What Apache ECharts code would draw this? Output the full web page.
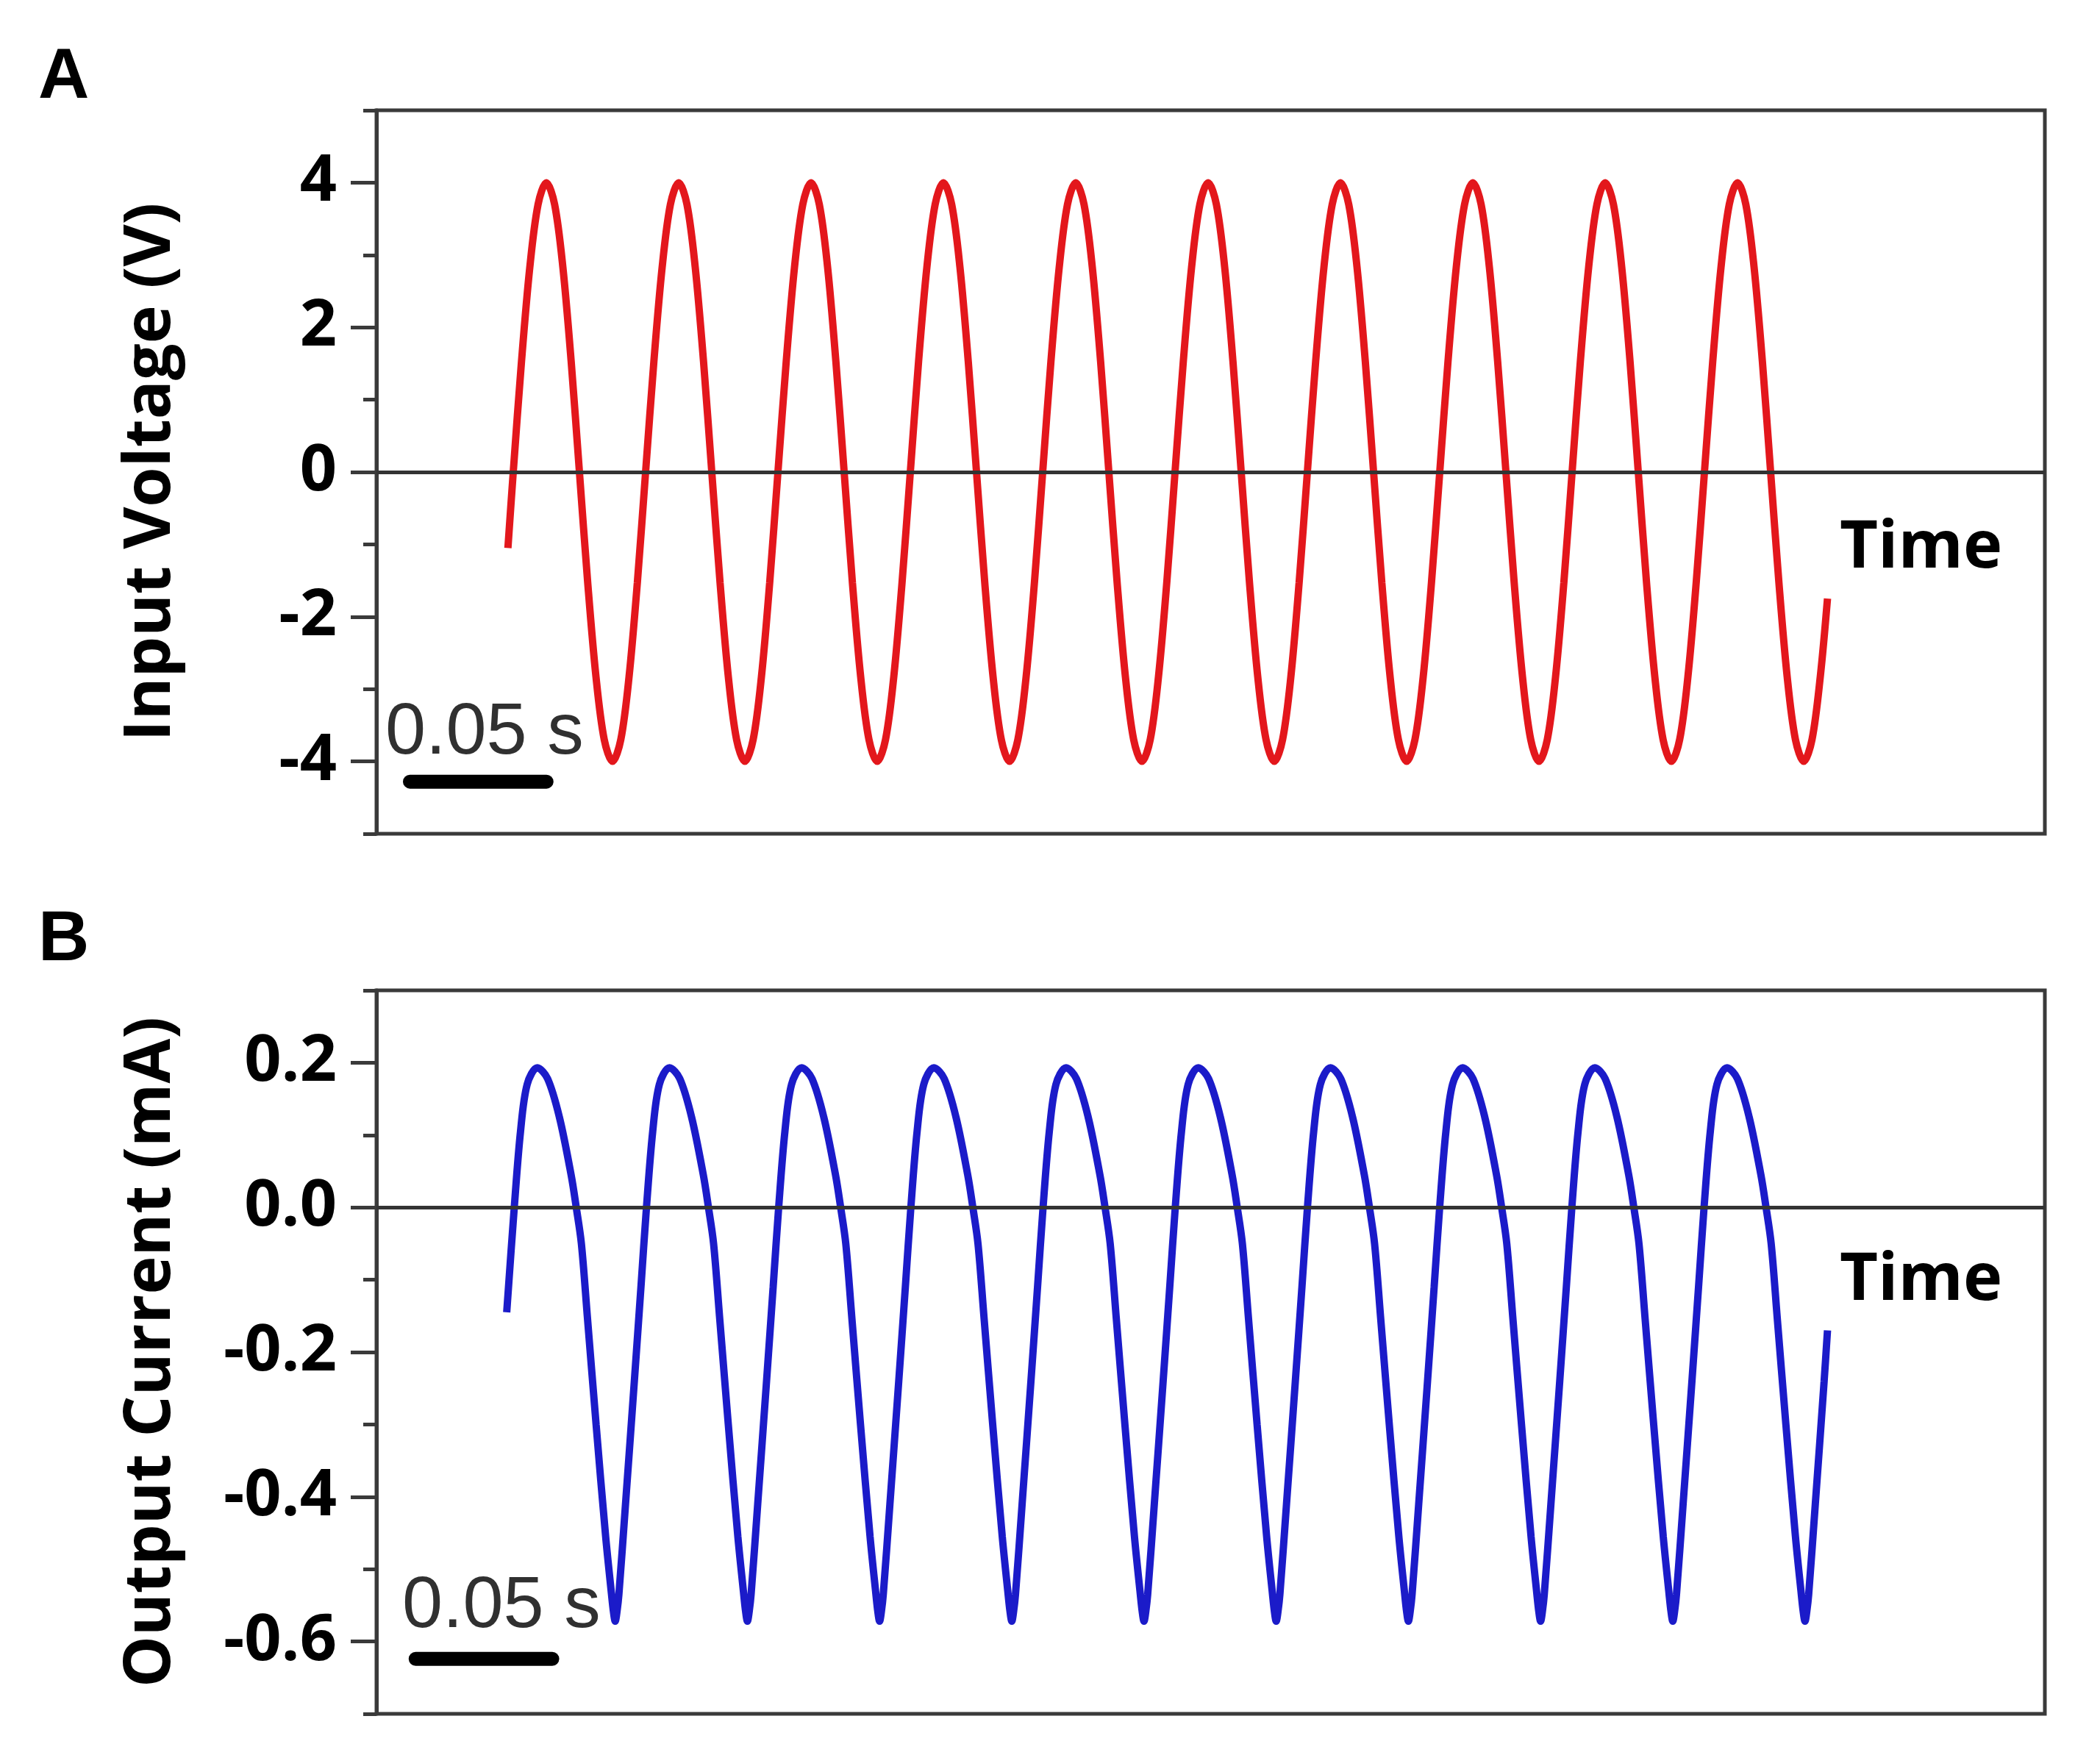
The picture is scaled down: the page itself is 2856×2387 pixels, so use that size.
<!DOCTYPE html>
<html>
<head>
<meta charset="utf-8">
<script src="https://cdn.jsdelivr.net/npm/echarts@6/dist/echarts.min.js"></script>
<style>
html,body{margin:0;padding:0;background:#ffffff;}
#chart{width:2856px;height:2387px;}
</style>
</head>
<body>
<div id="chart"></div>
<script>
// ---------- data (time in ms) ----------
const voltageTicks = [-4, -2, 0, 2, 4];
const voltageMinorTicks = [-5, -3, -1, 1, 3, 5];
const currentTicks = [-0.6, -0.4, -0.2, 0, 0.2];
const currentMinorTicks = [-0.7, -0.5, -0.3, -0.1, 0.1, 0.3];

const timeA = [
  43.60,
  45.37, 48.11, 50.86, 53.60, 56.35, 59.09, 61.83, 64.58, 67.32, 70.07, 72.81, 75.55, 78.30, 81.04, 83.78, 86.53,
  89.27, 92.02, 94.76, 97.50, 100.25, 102.99, 105.73, 108.48, 111.22, 113.97, 116.71, 119.45, 122.20, 124.94, 127.69, 130.43,
  133.17, 135.92, 138.66, 141.41, 144.15, 146.89, 149.64, 152.38, 155.13, 157.87, 160.61, 163.36, 166.10, 168.85, 171.59, 174.33,
  177.08, 179.82, 182.57, 185.31, 188.05, 190.80, 193.54, 196.29, 199.03, 201.77, 204.52, 207.26, 210.00, 212.75, 215.49, 218.24,
  220.98, 223.72, 226.47, 229.21, 231.96, 234.70, 237.44, 240.19, 242.93, 245.68, 248.42, 251.16, 253.91, 256.65, 259.39, 262.14,
  264.88, 267.63, 270.37, 273.11, 275.86, 278.60, 281.35, 284.09, 286.83, 289.58, 292.32, 295.07, 297.81, 300.55, 303.30, 306.04,
  308.78, 311.53, 314.27, 317.02, 319.76, 322.50, 325.25, 327.99, 330.74, 333.48, 336.22, 338.97, 341.71, 344.46, 347.20, 349.94,
  352.69, 355.43, 358.17, 360.92, 363.66, 366.41, 369.15, 371.89, 374.64, 377.38, 380.13, 382.87, 385.61, 388.36, 391.10, 393.85,
  396.59, 399.33, 402.08, 404.82, 407.56, 410.31, 413.05, 415.80, 418.54, 421.28, 424.03, 426.77, 429.52, 432.26, 435.00, 437.75,
  440.49, 443.24, 445.98, 448.72, 451.47, 454.21, 456.95, 459.70, 462.44, 465.19, 467.93, 470.67, 473.42,
  476.16, 478.91, 481.30
];
const voltageA = [
  -1.05,
  0, 1.53, 2.83, 3.70, 4, 3.70, 2.83, 1.53, 0, -1.53, -2.83, -3.70, -4, -3.70, -2.83, -1.53,
  0, 1.53, 2.83, 3.70, 4, 3.70, 2.83, 1.53, 0, -1.53, -2.83, -3.70, -4, -3.70, -2.83, -1.53,
  0, 1.53, 2.83, 3.70, 4, 3.70, 2.83, 1.53, 0, -1.53, -2.83, -3.70, -4, -3.70, -2.83, -1.53,
  0, 1.53, 2.83, 3.70, 4, 3.70, 2.83, 1.53, 0, -1.53, -2.83, -3.70, -4, -3.70, -2.83, -1.53,
  0, 1.53, 2.83, 3.70, 4, 3.70, 2.83, 1.53, 0, -1.53, -2.83, -3.70, -4, -3.70, -2.83, -1.53,
  0, 1.53, 2.83, 3.70, 4, 3.70, 2.83, 1.53, 0, -1.53, -2.83, -3.70, -4, -3.70, -2.83, -1.53,
  0, 1.53, 2.83, 3.70, 4, 3.70, 2.83, 1.53, 0, -1.53, -2.83, -3.70, -4, -3.70, -2.83, -1.53,
  0, 1.53, 2.83, 3.70, 4, 3.70, 2.83, 1.53, 0, -1.53, -2.83, -3.70, -4, -3.70, -2.83, -1.53,
  0, 1.53, 2.83, 3.70, 4, 3.70, 2.83, 1.53, 0, -1.53, -2.83, -3.70, -4, -3.70, -2.83, -1.53,
  0, 1.53, 2.83, 3.70, 4, 3.70, 2.83, 1.53, 0, -1.53, -2.83, -3.70, -4,
  -3.70, -2.83, -1.75
];

const timeB = [
  43.20, 45.71, 47.78, 49.98,
  53.34, 56.75, 60.66, 64.56, 66.27, 67.97, 69.93, 72.85, 76.02, 77.97, 78.58, 79.19, 79.80, 80.41, 82.61, 85.54, 87.73, 89.56, 91.63, 93.83,
  97.19, 100.60, 104.51, 108.41, 110.12, 111.82, 113.78, 116.70, 119.87, 121.82, 122.43, 123.04, 123.65, 124.26, 126.46, 129.39, 131.58, 133.41, 135.48, 137.68,
  141.04, 144.45, 148.36, 152.26, 153.97, 155.67, 157.63, 160.55, 163.72, 165.67, 166.28, 166.89, 167.50, 168.11, 170.31, 173.24, 175.43, 177.26, 179.33, 181.53,
  184.89, 188.30, 192.21, 196.11, 197.82, 199.52, 201.48, 204.40, 207.57, 209.52, 210.13, 210.74, 211.35, 211.96, 214.16, 217.09, 219.28, 221.11, 223.18, 225.38,
  228.74, 232.15, 236.06, 239.96, 241.67, 243.37, 245.33, 248.25, 251.42, 253.37, 253.98, 254.59, 255.20, 255.81, 258.01, 260.94, 263.13, 264.96, 267.03, 269.23,
  272.59, 276.00, 279.91, 283.81, 285.52, 287.22, 289.18, 292.10, 295.27, 297.22, 297.83, 298.44, 299.05, 299.66, 301.86, 304.79, 306.98, 308.81, 310.88, 313.08,
  316.44, 319.85, 323.76, 327.66, 329.37, 331.07, 333.03, 335.95, 339.12, 341.07, 341.68, 342.29, 342.90, 343.51, 345.71, 348.64, 350.83, 352.66, 354.73, 356.93,
  360.29, 363.70, 367.61, 371.51, 373.22, 374.92, 376.88, 379.80, 382.97, 384.92, 385.53, 386.14, 386.75, 387.36, 389.56, 392.49, 394.68, 396.51, 398.58, 400.78,
  404.14, 407.55, 411.46, 415.36, 417.07, 418.77, 420.73, 423.65, 426.82, 428.77, 429.38, 429.99, 430.60, 431.21, 433.41, 436.34, 438.53, 440.36, 442.43, 444.63,
  447.99, 451.40, 455.31, 459.21, 460.92, 462.62, 464.58, 467.50, 470.67, 472.62, 473.23, 473.84, 474.45, 475.06, 477.26, 480.19,
  481.30
];
const currentB = [
  -0.145, 0, 0.105, 0.170,
  0.193, 0.178, 0.125, 0.045, 0, -0.05, -0.15, -0.30, -0.455, -0.535, -0.558, -0.572, -0.558, -0.535, -0.41, -0.24, -0.11, 0, 0.105, 0.170,
  0.193, 0.178, 0.125, 0.045, 0, -0.05, -0.15, -0.30, -0.455, -0.535, -0.558, -0.572, -0.558, -0.535, -0.41, -0.24, -0.11, 0, 0.105, 0.170,
  0.193, 0.178, 0.125, 0.045, 0, -0.05, -0.15, -0.30, -0.455, -0.535, -0.558, -0.572, -0.558, -0.535, -0.41, -0.24, -0.11, 0, 0.105, 0.170,
  0.193, 0.178, 0.125, 0.045, 0, -0.05, -0.15, -0.30, -0.455, -0.535, -0.558, -0.572, -0.558, -0.535, -0.41, -0.24, -0.11, 0, 0.105, 0.170,
  0.193, 0.178, 0.125, 0.045, 0, -0.05, -0.15, -0.30, -0.455, -0.535, -0.558, -0.572, -0.558, -0.535, -0.41, -0.24, -0.11, 0, 0.105, 0.170,
  0.193, 0.178, 0.125, 0.045, 0, -0.05, -0.15, -0.30, -0.455, -0.535, -0.558, -0.572, -0.558, -0.535, -0.41, -0.24, -0.11, 0, 0.105, 0.170,
  0.193, 0.178, 0.125, 0.045, 0, -0.05, -0.15, -0.30, -0.455, -0.535, -0.558, -0.572, -0.558, -0.535, -0.41, -0.24, -0.11, 0, 0.105, 0.170,
  0.193, 0.178, 0.125, 0.045, 0, -0.05, -0.15, -0.30, -0.455, -0.535, -0.558, -0.572, -0.558, -0.535, -0.41, -0.24, -0.11, 0, 0.105, 0.170,
  0.193, 0.178, 0.125, 0.045, 0, -0.05, -0.15, -0.30, -0.455, -0.535, -0.558, -0.572, -0.558, -0.535, -0.41, -0.24, -0.11, 0, 0.105, 0.170,
  0.193, 0.178, 0.125, 0.045, 0, -0.05, -0.15, -0.30, -0.455, -0.535, -0.558, -0.572, -0.558, -0.535, -0.41, -0.24,
  -0.17
];

// 0.05 s scale bars (time span in ms, y level in axis units)
const scaleBarTimeA = [11.1, 56.4];
const scaleBarLevelA = -4.28;
const scaleBarTimeB = [13.0, 58.3];
const scaleBarLevelB = -0.624;

const timeMin = 0, timeMax = 553.4;

// ---------- styling ----------
const AXIS_COLOR = '#3a3a3a';
const TICK_FONT = {fontFamily: 'Open Sans', fontWeight: 'bold', fontSize: 88, color: '#000'};
const NAME_FONT = {fontFamily: 'Open Sans', fontWeight: 'bold', fontSize: 88, color: '#000'};

function pairs(xs, ys) { return xs.map((x, i) => [x, ys[i]]); }

function majorY(gridIndex, min, max, ticks, name, fmt) {
  return {
    type: 'value', gridIndex, min, max, position: 'left',
    name, nameLocation: 'middle', nameGap: 262, nameRotate: 90,
    nameTextStyle: NAME_FONT,
    axisLine: {show: true, onZero: false, lineStyle: {color: AXIS_COLOR, width: 5}},
    axisTick: {show: true, inside: false, length: 35, customValues: ticks, lineStyle: {color: AXIS_COLOR, width: 5}},
    axisLabel: Object.assign({show: true, margin: 54, customValues: ticks, formatter: fmt}, TICK_FONT),
    splitLine: {show: false}
  };
}
function minorY(gridIndex, min, max, ticks) {
  return {
    type: 'value', gridIndex, min, max, position: 'left',
    axisLine: {show: false},
    axisTick: {show: true, inside: false, length: 18, customValues: ticks, lineStyle: {color: AXIS_COLOR, width: 5}},
    axisLabel: {show: false},
    splitLine: {show: false}
  };
}
function timeX(gridIndex) {
  return {
    type: 'value', gridIndex, min: timeMin, max: timeMax,
    axisLine: {show: false}, axisTick: {show: false}, axisLabel: {show: false}, splitLine: {show: false}
  };
}
const zeroLine = {
  silent: true, symbol: ['none', 'none'], animation: false,
  label: {show: false},
  lineStyle: {color: '#333333', width: 5, type: 'solid'},
  data: [{yAxis: 0}]
};

const chart = echarts.init(document.getElementById('chart'), null, {renderer: 'canvas'});
chart.setOption({
  animation: false,
  backgroundColor: '#ffffff',
  grid: [
    {left: 512, top: 150, width: 2269, height: 984, show: true, borderColor: AXIS_COLOR, borderWidth: 5, backgroundColor: 'transparent', containLabel: false},
    {left: 512, top: 1347, width: 2269, height: 984, show: true, borderColor: AXIS_COLOR, borderWidth: 5, backgroundColor: 'transparent', containLabel: false}
  ],
  xAxis: [timeX(0), timeX(1)],
  yAxis: [
    majorY(0, -5, 5, voltageTicks, 'Input Voltage (V)', v => String(Math.round(v))),
    minorY(0, -5, 5, voltageMinorTicks),
    majorY(1, -0.7, 0.3, currentTicks, 'Output Current (mA)', v => (Math.abs(v) < 1e-9 ? 0 : v).toFixed(1)),
    minorY(1, -0.7, 0.3, currentMinorTicks)
  ],
  series: [
    {
      type: 'line', xAxisIndex: 0, yAxisIndex: 0,
      data: pairs(timeA, voltageA), smooth: 0.33, showSymbol: false, symbol: 'none',
      lineStyle: {color: '#e3171c', width: 10}, z: 3,
      markLine: zeroLine
    },
    {
      type: 'line', xAxisIndex: 1, yAxisIndex: 2,
      data: pairs(timeB, currentB), smooth: 0.33, showSymbol: false, symbol: 'none',
      lineStyle: {color: '#1b1bc9', width: 10}, z: 3,
      markLine: zeroLine
    },
    {
      type: 'line', xAxisIndex: 0, yAxisIndex: 0, symbol: 'none', silent: true,
      data: scaleBarTimeA.map(t => [t, scaleBarLevelA]),
      lineStyle: {color: '#000', width: 19, cap: 'round'}
    },
    {
      type: 'line', xAxisIndex: 1, yAxisIndex: 2, symbol: 'none', silent: true,
      data: scaleBarTimeB.map(t => [t, scaleBarLevelB]),
      lineStyle: {color: '#000', width: 19, cap: 'round'}
    }
  ],
  graphic: [
    {type: 'text', x: 52, y: 107, style: {text: 'A', font: 'bold 96px "Liberation Sans", Arial, sans-serif', fill: '#000', verticalAlign: 'middle', align: 'left'}},
    {type: 'text', x: 52, y: 1280, style: {text: 'B', font: 'bold 96px "Liberation Sans", Arial, sans-serif', fill: '#000', verticalAlign: 'middle', align: 'left'}},
    {type: 'text', x: 2502, y: 746, style: {text: 'Time', font: 'bold 90px "Open Sans", sans-serif', fill: '#000', verticalAlign: 'middle', align: 'left'}},
    {type: 'text', x: 2502, y: 1742, style: {text: 'Time', font: 'bold 90px "Open Sans", sans-serif', fill: '#000', verticalAlign: 'middle', align: 'left'}},
    {type: 'text', x: 524, y: 998, style: {text: '0.05 s', font: '99px "Liberation Sans", Arial, sans-serif', fill: '#303030', verticalAlign: 'middle', align: 'left'}},
    {type: 'text', x: 547, y: 2186, style: {text: '0.05 s', font: '99px "Liberation Sans", Arial, sans-serif', fill: '#303030', verticalAlign: 'middle', align: 'left'}}
  ]
});
</script>
</body>
</html>
